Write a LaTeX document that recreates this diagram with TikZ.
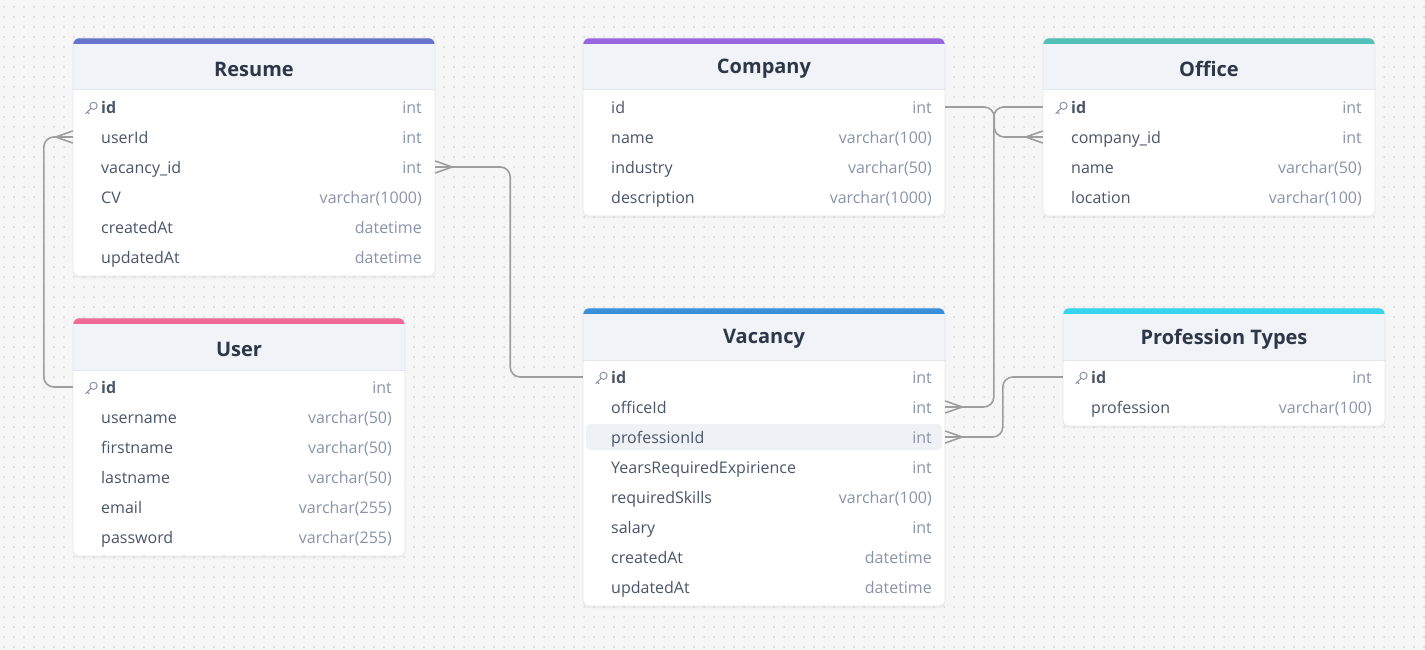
\documentclass[tikz,border=0pt]{standalone}
\usepackage{fontspec}
\setmainfont{Open Sans}
\usetikzlibrary{shadows}
\definecolor{bgcol}{HTML}{F6F6F6}
\definecolor{dotcol}{HTML}{BDBDBD}
\definecolor{headfill}{HTML}{F0F3F8}
\definecolor{bordercol}{HTML}{E2E6EC}
\definecolor{titlecol}{HTML}{2D3748}
\definecolor{namecol}{HTML}{4A5568}
\definecolor{typecol}{HTML}{8A94A8}
\definecolor{linkcol}{HTML}{9E9E9E}
\definecolor{rowhl}{HTML}{EEF2F7}
\definecolor{resumecol}{HTML}{6674CC}
\definecolor{companycol}{HTML}{9966E0}
\definecolor{officecol}{HTML}{52C0B4}
\definecolor{usercol}{HTML}{F06A98}
\definecolor{vacancycol}{HTML}{3A8FDA}
\definecolor{professioncol}{HTML}{33D4EC}
\tikzstyle{tabletitle} = [font=\fontsize{20}{23}\selectfont\bfseries, text=titlecol]
\tikzstyle{fieldname} = [anchor=base west, inner sep=0, font=\fontsize{16}{19}\selectfont, text=namecol]
\tikzstyle{fieldtype} = [anchor=base east, inner sep=0, font=\fontsize{16}{19}\selectfont, text=typecol]
\tikzstyle{rowbox} = [minimum height=30pt, inner sep=0]
\tikzstyle{keyicon} = [typecol, line width=1pt]
\tikzstyle{link} = [linkcol, line width=1.6pt, rounded corners=10pt]
\tikzstyle{crow} = [linkcol, line width=1.6pt]
\tikzstyle{dotrow} = [dotcol, line width=1.5pt, line cap=round, dash pattern=on 0pt off 10pt]

% #1 name, #2 title, #3 x, #4 top, #5 width, #6 colour, #7 rows, #8 fields
\newcommand{\ertable}[8]{
  \begin{scope}[shift={(#3,#4)}]
    \fill[white, rounded corners=6pt, drop shadow={opacity=0.08, shadow xshift=0pt, shadow yshift=-2pt}] (0,0) rectangle (#5,58+30*#7);
    \begin{scope}
      \clip[rounded corners=6pt] (0,0) rectangle (#5,58+30*#7);
      \fill[headfill] (0,6) rectangle (#5,52);
      \fill[#6] (0,0) rectangle (#5,6);
    \end{scope}
    \draw[bordercol, line width=1pt] (0,52) -- (#5,52);
    \draw[bordercol, line width=0.6pt, rounded corners=6pt] (0,0) rectangle (#5,58+30*#7);
    \node[tabletitle] (#1) at (#5/2,31) {#2};
    \foreach \f/\t/\k [count=\i] in {#8} {
      \node[rowbox, minimum width=#5pt] (#1-\i) at (#5/2,39+30*\i) {};
      \ifnum\k=2 \fill[rowhl, rounded corners=4pt] (3,26+30*\i) rectangle (#5-3,52+30*\i); \fi
      \ifnum\k=1
        \draw[keyicon] (20.5,37.8+30*\i) circle (3.6pt);
        \draw[keyicon] (17.9,40.5+30*\i) -- (12.6,45.8+30*\i) (14.4,44+30*\i) -- (16.2,45.8+30*\i);
        \node[fieldname, font=\fontsize{16}{19}\selectfont\bfseries] at (28,45.3+30*\i) {\f};
      \else
        \node[fieldname] at (28,45.3+30*\i) {\f};
      \fi
      \node[fieldtype] at (#5-13,45.3+30*\i) {\t};
    }
  \end{scope}
}
\newcommand{\crowwest}[1]{
  \draw[crow] ([xshift=-17pt]#1.west) -- ([yshift=6pt]#1.west) ([xshift=-17pt]#1.west) -- ([yshift=-6pt]#1.west);
}
\newcommand{\croweast}[1]{
  \draw[crow] ([xshift=17pt]#1.east) -- ([yshift=6pt]#1.east) ([xshift=17pt]#1.east) -- ([yshift=-6pt]#1.east);
}

\begin{document}
\begin{tikzpicture}[x=1pt, y=-1pt]
    \useasboundingbox (0,0) rectangle (1425,650);
    \fill[bgcol] (0,0) rectangle (1425,650);
    \foreach \r in {0,...,64}
        \draw[dotrow] (4,7+10*\r) -- (1425,7+10*\r);

    \ertable{resume}{Resume}{73}{38}{362}{resumecol}{6}{id/int/1, userId/int/0, vacancy\_id/int/0, CV/varchar(1000)/0, createdAt/datetime/0, updatedAt/datetime/0}
    \ertable{company}{Company}{583}{38}{362}{companycol}{4}{id/int/0, name/varchar(100)/0, industry/varchar(50)/0, description/varchar(1000)/0}
    \ertable{office}{Office}{1043}{38}{332}{officecol}{4}{id/int/1, company\_id/int/0, name/varchar(50)/0, location/varchar(100)/0}
    \ertable{user}{User}{73}{318}{332}{usercol}{6}{id/int/1, username/varchar(50)/0, firstname/varchar(50)/0, lastname/varchar(50)/0, email/varchar(255)/0, password/varchar(255)/0}
    \ertable{vacancy}{Vacancy}{583}{308}{362}{vacancycol}{8}{id/int/1, officeId/int/0, professionId/int/2, YearsRequiredExpirience/int/0, requiredSkills/varchar(100)/0, salary/int/0, createdAt/datetime/0, updatedAt/datetime/0}
    \ertable{profession}{Profession Types}{1063}{308}{322}{professioncol}{2}{id/int/1, profession/varchar(100)/0}

    % relations
    \draw[link] (resume-2.west) -- ++(-29,0) |- (user-1.west);
    \draw[link] (resume-3.east) -- ++(75,0) |- (vacancy-1.west);
    \draw[link] (company-1.east) -- ++(49,0) |- (office-2.west);
    \draw[link] (office-1.west) -- ++(-49,0) |- (vacancy-2.east);
    \draw[link] (profession-1.west) -- ++(-60,0) |- (vacancy-3.east);

    \crowwest{resume-2}
    \croweast{resume-3}
    \crowwest{office-2}
    \croweast{vacancy-2}
    \croweast{vacancy-3}
\end{tikzpicture}
\end{document}
